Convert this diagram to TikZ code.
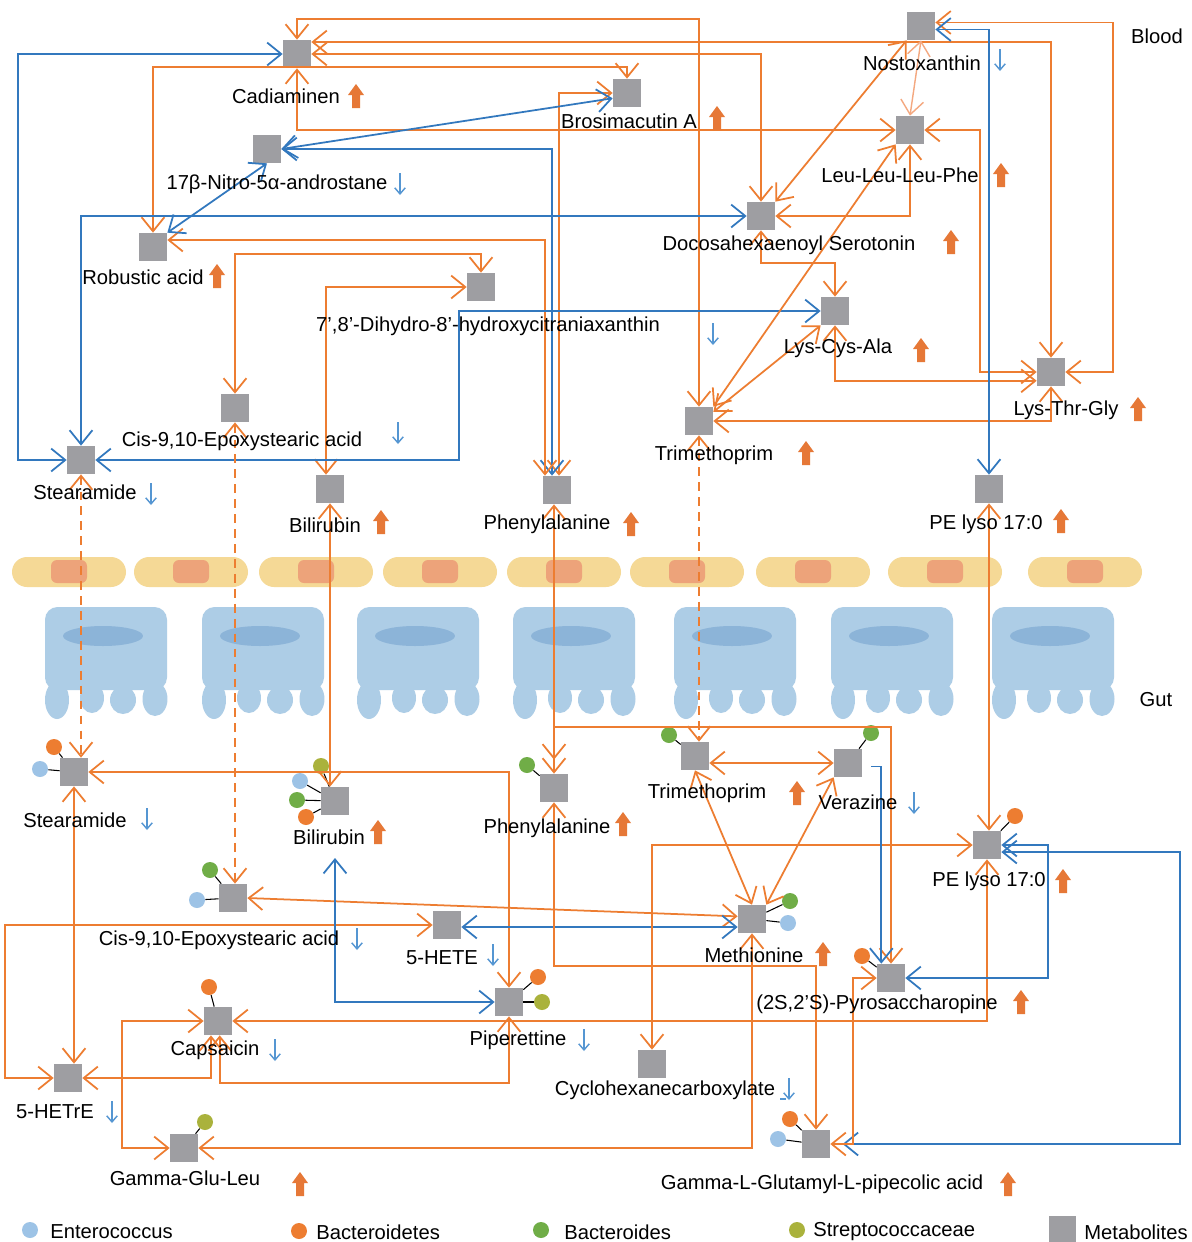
\documentclass[tikz,border=0pt]{standalone}
\usepackage{fontspec}
\setmainfont{Liberation Sans}
\usetikzlibrary{arrows.meta}
\definecolor{org}{RGB}{237,125,49}
\definecolor{lorg}{RGB}{244,168,128}
\definecolor{blu}{RGB}{50,120,190}
\definecolor{dblu}{RGB}{85,150,210}
\definecolor{uporg}{RGB}{230,120,55}
\definecolor{metgray}{RGB}{158,158,162}
\definecolor{bLB}{RGB}{157,195,230}
\definecolor{bOR}{RGB}{237,125,49}
\definecolor{bGR}{RGB}{112,173,71}
\definecolor{bOL}{RGB}{170,178,60}
\definecolor{capc}{RGB}{245,217,150}
\definecolor{capin}{RGB}{237,163,122}
\definecolor{cellc}{RGB}{173,205,230}
\definecolor{nucc}{RGB}{140,180,216}
\tikzset{
  uparr/.pic={\fill[uporg] (-4,12) -- (-4,-1) -- (-8,-1) -- (0,-12) -- (8,-1) -- (4,-1) -- (4,12) -- cycle;},
  dnarr/.pic={\draw[dblu, line width=0.8pt, -{Straight Barb[length=3.5pt,width=6pt]}] (0,-11) -- (0,11);}
}
\begin{document}
\begin{tikzpicture}[x=0.02cm,y=-0.02cm,
  >={Straight Barb[length=8pt,width=13pt]},
  oe/.style={draw=org, line width=1pt},
  loe/.style={draw=lorg, line width=0.8pt},
  be/.style={draw=blu, line width=1pt},
  dsh/.style={dash pattern=on 5pt off 3.5pt},
  met/.style={fill=metgray, minimum size=0.56cm, inner sep=0pt, draw=none},
  lab/.style={font=\fontsize{11.5}{13}\selectfont, inner sep=0pt},
  bac/.style={circle, minimum size=0.32cm, inner sep=0pt},
  teth/.style={draw=black, line width=0.6pt}]
\useasboundingbox (0,0) rectangle (1192,1242);
\fill[white] (0,0) rectangle (1192,1242);

% ---- gut background ----
\foreach \c in {69,191,316,440,564,687,813,945,1085} {
  \fill[capc, rounded corners=0.3cm] (\c-57,557) rectangle (\c+57,587);
  \fill[capin, rounded corners=0.12cm] (\c-18,560) rectangle (\c+18,583);
}
\foreach \L in {45,202,357,513,674,831,992} {
  \fill[cellc, rounded corners=0.25cm] (\L,607) rectangle (\L+122,690);
  \fill[cellc] (\L+12,700) ellipse [x radius=0.24cm, y radius=0.38cm];
  \fill[cellc] (\L+47,698) ellipse [x radius=0.24cm, y radius=0.3cm];
  \fill[cellc] (\L+78,700) ellipse [x radius=0.26cm, y radius=0.28cm];
  \fill[cellc] (\L+110,699) ellipse [x radius=0.25cm, y radius=0.34cm];
  \fill[nucc] (\L+58,636) ellipse [x radius=0.8cm, y radius=0.2cm];
}

% ---- blood metabolites ----
\node[met] (Cad) at (297,54) {};
\node[met] (Bros) at (627,93) {};
\node[met] (Nitro) at (267,149) {};
\node[met] (Nost) at (921,26) {};
\node[met] (LLLP) at (910,130) {};
\node[met] (DHS) at (761,216) {};
\node[met] (Rob) at (153,247) {};
\node[met] (DHC) at (481,287) {};
\node[met] (LCA) at (835,311) {};
\node[met] (LTG) at (1051,372) {};
\node[met] (CisB) at (235,408) {};
\node[met] (TriB) at (699,421) {};
\node[met] (StB) at (81,460) {};
\node[met] (BilB) at (330,489) {};
\node[met] (PheB) at (557,490) {};
\node[met] (PEB) at (989,489) {};

% ---- gut metabolites ----
\node[met] (StG) at (74,772) {};
\node[met] (BilG) at (335,801) {};
\node[met] (PheG) at (554,788) {};
\node[met] (TriG) at (695,756) {};
\node[met] (Ver) at (848,763) {};
\node[met] (PEG) at (987,845) {};
\node[met] (CisG) at (233,898) {};
\node[met] (HETE) at (447,925) {};
\node[met] (Met) at (752,919) {};
\node[met] (Pyro) at (891,978) {};
\node[met] (Pip) at (509,1002) {};
\node[met] (Cap) at (218,1021) {};
\node[met] (Cyc) at (652,1064) {};
\node[met] (HETrE) at (68,1078) {};
\node[met] (GGL) at (184,1148) {};
\node[met] (GLGP) at (816,1144) {};

% ---- bacteria ----
\node[bac, fill=bOR] (s1) at (54,747) {};
\node[bac, fill=bLB] (s2) at (40,769) {};
\node[bac, fill=bOL] (b1) at (321,766) {};
\node[bac, fill=bLB] (b2) at (300,781) {};
\node[bac, fill=bGR] (b3) at (297,800) {};
\node[bac, fill=bOR] (b4) at (306,817) {};
\node[bac, fill=bGR] (p1) at (527,765) {};
\node[bac, fill=bGR] (t1) at (669,735) {};
\node[bac, fill=bGR] (v1) at (871,733) {};
\node[bac, fill=bGR] (m1) at (790,901) {};
\node[bac, fill=bLB] (m2) at (788,923) {};
\node[bac, fill=bOR] (e1) at (1015,816) {};
\node[bac, fill=bOR] (y1) at (862,956) {};
\node[bac, fill=bGR] (c1) at (210,870) {};
\node[bac, fill=bLB] (c2) at (197,900) {};
\node[bac, fill=bOR] (q1) at (538,977) {};
\node[bac, fill=bOL] (q2) at (542,1002) {};
\node[bac, fill=bOR] (k1) at (209,987) {};
\node[bac, fill=bOL] (g1) at (205,1122) {};
\node[bac, fill=bOR] (u1) at (790,1119) {};
\node[bac, fill=bLB] (u2) at (778,1139) {};
\foreach \a/\b in {s1/StG,s2/StG,b1/BilG,b2/BilG,b3/BilG,b4/BilG,p1/PheG,t1/TriG,v1/Ver,m1/Met,m2/Met,e1/PEG,y1/Pyro,c1/CisG,c2/CisG,q1/Pip,q2/Pip,k1/Cap,g1/GGL,u1/GLGP,u2/GLGP}
  \draw[teth] (\a) -- (\b);

% ---- blood edges ----
\draw[oe,<->] (Cad.north) -- (Cad.north |- 0,19) -- (TriB.north |- 0,19) -- (TriB.north);
\draw[oe,<->] (Cad.east |- 0,42) -- (LTG.north |- 0,42) -- (LTG.north);
\draw[oe,<->] (Cad.east) -- (DHS.north |- Cad.east) -- (DHS.north);
\draw[be,<->] (StB.west) -- (StB.west -| 18,0) |- (Cad.west);
\draw[oe,<->] (Cad.south) |- (LLLP.west);
\draw[oe,<->] (Rob.north) -- (Rob.north |- 0,67) -- (Bros.north |- 0,67) -- (Bros.north);
\draw[oe,<->] (Bros.west) -- (Bros.west -| 559,0) -- (PheB.north -| 559,0);
\draw[be,<->] (Nitro.east) -- (Nitro.east -| 552,0) -- (PheB.north -| 552,0);
\draw[oe,<->] (Rob.east |- 0,240) -- (545,240) -- (PheB.north -| 545,0);
\draw[be,<->] (Nitro.east) -- ([yshift=-3pt]Bros.west);
\draw[be,<->] (Nitro.south) -- (Rob.north east);
\draw[be,<->] (StB.north) |- (DHS.west);
\draw[oe,<->] (CisB.north) -- (CisB.north |- 0,254) -- (DHC.north |- 0,254) -- (DHC.north);
\draw[oe,<->] (DHC.west) -- (DHC.west -| 326,0) -- (BilB.north -| 326,0);
\draw[be,<->] (StB.east) -| (459,311) -- (LCA.west);
\draw[oe,<->] (Nost.south west) -- (DHS.north east);
\draw[loe,<->] (Nost.south) -- (LLLP.north);
\draw[oe,<->] (LLLP.south) |- (DHS.east);
\draw[oe,<->] (LLLP.east) -| (980,372) -- (LTG.west);
\draw[oe,<->] (LCA.south) |- ([yshift=-5pt]LTG.west);
\draw[oe,<->] (DHS.south) -- (DHS.south |- 0,263) -| (LCA.north);
\draw[oe,<->] (LLLP.south west) -- (TriB.north east);
\draw[oe,<->] (LCA.south west) -- ([yshift=-3pt]TriB.north east);
\draw[oe,<->] (LTG.south) |- (TriB.east);
\draw[oe,<->] ([yshift=2pt]Nost.east) -| (1113,372) -- (LTG.east);
\draw[be,<->] ([yshift=-2pt]Nost.east) -| (PEB.north);

% ---- blood to gut ----
\draw[oe,dsh,<->] (StB.south) -- (StB.south |- StG.north);
\draw[oe,dsh,<->] (CisB.south) -- (CisB.south |- CisG.north);
\draw[oe,dsh,<->] (TriB.south) -- (TriB.south |- TriG.north);
\draw[oe,<->] (BilB.south) -- (BilB.south |- BilG.north);
\draw[oe,<->] (PheB.south -| PheG.north) -- (PheG.north);
\draw[oe,<->] (PEB.south) -- (PEB.south |- PEG.north);

% ---- gut edges ----
\draw[oe,<->] (StG.east) -| (Pip.north);
\draw[oe,<->] (StG.south) -- (StG.south |- HETrE.north);
\draw[oe,<->] (CisG.east) -- ([yshift=1.5pt]Met.west);
\draw[be,<->] (HETE.east |- 0,927) -- (Met.west |- 0,927);
\draw[oe,<->] (HETE.west) -| (5,1078) -- (HETrE.west);
\coordinate (bilfree) at (335,858);
\draw[be,<->] (bilfree) |- (Pip.west);
\draw[oe,<->] (Pip.south) -- (Pip.south |- 0,1083) -| ([xshift=1pt]Cap.south);
\draw[oe,<->] (HETrE.east) -| ([xshift=-4pt]Cap.south);
\draw[oe,<->] (Cap.east) -| (PEG.south);
\draw[oe,<->] (Cap.west) -- (Cap.west -| 122,0) |- (GGL.west);
\draw[oe,<->] (GGL.east) -| (Met.south);
\draw[oe,<->] (PheG.south) |- (GLGP.north |- 0,966) -- (GLGP.north);
\draw[oe,<->,shorten <=8pt] (PheG.north) |- (Pyro.north |- 0,727) -- (Pyro.north);
\draw[oe,<->] (Cyc.north) |- (PEG.west);
\draw[oe,<->] (TriG.east |- Ver.west) -- (Ver.west);
\draw[oe,<->] (TriG.south) -- (Met.north);
\draw[oe,<->] (Ver.south west) -- (Met.north east);
\draw[be,->] ([xshift=5pt,yshift=-2pt]Ver.east) -| ([xshift=-5.5pt]Pyro.north);
\draw[be,<->] (Pyro.east) -| (1048,845) -- (PEG.east);
\draw[be,<->] ([xshift=7pt]GLGP.east) -| (1180,852) -- ([yshift=-4pt]PEG.east);
\draw[oe,<->] (Pyro.west) -| (853,1144) -- (GLGP.east);

% ---- labels blood ----
\node[lab] (lCad) at (286,96) {Cadiaminen}; \pic at (356,96) {uparr};
\node[lab] (lBros) at (629,121) {Brosimacutin A}; \pic at (717,118) {uparr};
\node[lab] (lNitro) at (277,184) {17β-Nitro-5α-androstane}; \pic at (400,184) {dnarr};
\node[lab] (lNost) at (922,63) {Nostoxanthin}; \pic at (1000,60) {dnarr};
\node[lab] (lLLLP) at (900,175) {Leu-Leu-Leu-Phe}; \pic at (1001,175) {uparr};
\node[lab] (lDHS) at (789,245) {Docosahexaenoyl Serotonin}; \pic at (951,242) {uparr};
\node[lab] (lRob) at (143,277) {Robustic acid}; \pic at (217,276) {uparr};
\node[lab] (lDHC) at (488,326) {7’,8’-Dihydro-8’-hydroxycitraniaxanthin}; \pic at (713,334) {dnarr};
\node[lab] (lLCA) at (838,348) {Lys-Cys-Ala}; \pic at (921,350) {uparr};
\node[lab] (lLTG) at (1066,410) {Lys-Thr-Gly}; \pic at (1138,409) {uparr};
\node[lab] (lCisB) at (242,441) {Cis-9,10-Epoxystearic acid}; \pic at (398,433) {dnarr};
\node[lab] (lTriB) at (714,455) {Trimethoprim}; \pic at (806,453) {uparr};
\node[lab] (lStB) at (85,492) {Stearamide}; \pic at (151,494) {dnarr};
\node[lab] (lBilB) at (325,525) {Bilirubin}; \pic at (381,522) {uparr};
\node[lab] (lPheB) at (547,524) {Phenylalanine}; \pic at (631,524) {uparr};
\node[lab] (lPEB) at (986,524) {PE lyso 17:0}; \pic at (1061,521) {uparr};
\node[lab] (lBlood) at (1157,36) {Blood};
\node[lab] (lGut) at (1156,700) {Gut};

% ---- labels gut ----
\node[lab] (lStG) at (75,820) {Stearamide}; \pic at (147,819) {dnarr};
\node[lab] (lBilG) at (329,837) {Bilirubin}; \pic at (378,832) {uparr};
\node[lab] (lPheG) at (547,828) {Phenylalanine}; \pic at (623,824) {uparr};
\node[lab] (lTriG) at (707,793) {Trimethoprim}; \pic at (797,793) {uparr};
\node[lab] (lVer) at (858,802) {Verazine}; \pic at (914,803) {dnarr};
\node[lab] (lPEG) at (989,881) {PE lyso 17:0}; \pic at (1063,881) {uparr};
\node[lab] (lCisG) at (219,940) {Cis-9,10-Epoxystearic acid}; \pic at (357,939) {dnarr};
\node[lab] (lHETE) at (442,958) {5-HETE}; \pic at (493,955) {dnarr};
\node[lab] (lMet) at (754,955) {Methionine}; \pic at (823,954) {uparr};
\node[lab] (lPyro) at (877,1004) {(2S,2’S)-Pyrosaccharopine}; \pic at (1021,1002) {uparr};
\node[lab] (lPip) at (518,1040) {Piperettine}; \pic at (584,1040) {dnarr};
\node[lab] (lCap) at (215,1050) {Capsaicin}; \pic at (275,1050) {dnarr};
\node[lab] (lCyc) at (665,1090) {Cyclohexanecarboxylate}; \pic at (789,1089) {dnarr};
\draw[dblu, line width=0.6pt] (780,1099) -- (786,1099);
\node[lab] (lHETrE) at (55,1112) {5-HETrE}; \pic at (112,1112) {dnarr};
\node[lab] (lGGL) at (185,1178) {Gamma-Glu-Leu}; \pic at (300,1184) {uparr};
\node[lab] (lGLGP) at (822,1184) {Gamma-L-Glutamyl-L-pipecolic acid}; \pic at (1008,1184) {uparr};

% ---- legend ----
\node[bac, fill=bLB] (g1c) at (30,1230) {};
\node[lab, anchor=west] (g1t) at (50,1232) {Enterococcus};
\node[bac, fill=bOR] (g2c) at (299,1231) {};
\node[lab, anchor=west] (g2t) at (316,1232) {Bacteroidetes};
\node[bac, fill=bGR] (g3c) at (541,1230) {};
\node[lab, anchor=west] (g3t) at (564,1232) {Bacteroides};
\node[bac, fill=bOL] (g4c) at (797,1230) {};
\node[lab, anchor=west] (g4t) at (813,1232) {Streptococcaceae};
\node[met, minimum size=0.54cm] (g5c) at (1062,1229) {};
\node[lab, anchor=west] (g5t) at (1084,1232) {Metabolites};
\end{tikzpicture}
\end{document}
